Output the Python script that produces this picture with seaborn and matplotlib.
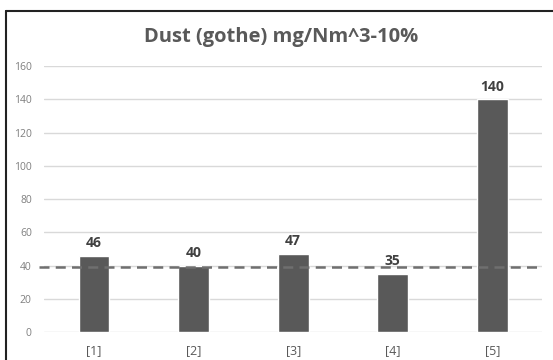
import matplotlib
matplotlib.use("Agg")
import matplotlib.pyplot as plt
import seaborn as sns
import pandas as pd
from matplotlib.lines import Line2D

categories = ["[1]", "[2]", "[3]", "[4]", "[5]"]
values = [46, 40, 47, 35, 140]
limit_value = 39
title = "Dust (gothe) mg/Nm^3-10%"
yticks = [0, 20, 40, 60, 80, 100, 120, 140, 160]

df = pd.DataFrame({"cat": categories, "val": values})

sns.set_theme(style="white")
plt.rcParams["font.family"] = ["Open Sans", "DejaVu Sans"]

fig = plt.figure(figsize=(5.53, 3.6), dpi=100)
ax = fig.add_axes([44.3 / 553, 1 - 332 / 360, (542 - 44.3) / 553, (332 - 66) / 360])

sns.barplot(data=df, x="cat", y="val", color="#595959", width=0.31,
            saturation=1, ax=ax, zorder=3)

ax.set_ylim(0, 160)
ax.set_xlim(-0.5, 4.5)
ax.set_yticks(yticks)
ax.yaxis.grid(True, color="#d9d9d9", linewidth=1)
ax.set_axisbelow(True)
for s in ax.spines.values():
    s.set_visible(False)
ax.set_xlabel("")
ax.set_ylabel("")
ax.tick_params(axis="y", colors="#7f7f7f", labelsize=7.5, length=0, pad=9)
ax.tick_params(axis="x", colors="#595959", labelsize=9, length=0, pad=9)

for c in ax.containers:
    ax.bar_label(c, labels=[str(v) for v in values], padding=4,
                 fontsize=10, fontweight="bold", color="#404040")

ax.axhline(limit_value, xmin=-0.011, xmax=0.994, color="#6f6f6f",
           linewidth=1.8, linestyle=(0, (4, 2.5)), clip_on=False, zorder=4)

fig.text(281 / 553, 1 - 37 / 360, title, ha="center", va="center",
         fontsize=14.5, fontweight="bold", color="#595959")

# chart frame (left and top edges visible)
bx, by = 6 / 553, 1 - 11 / 360
fig.add_artist(Line2D([bx, bx], [0, by], transform=fig.transFigure,
                      color="#222222", linewidth=1.5))
fig.add_artist(Line2D([bx, 1], [by, by], transform=fig.transFigure,
                      color="#222222", linewidth=1.5))

fig.savefig("out.png", dpi=100)
